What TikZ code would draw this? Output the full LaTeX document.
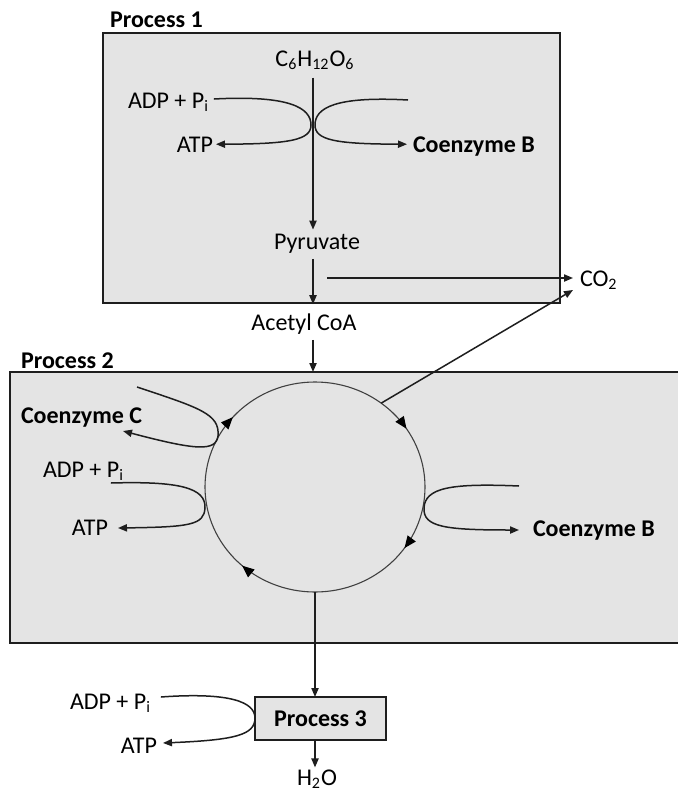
\documentclass[tikz,border=0pt]{standalone}
\usepackage{fontspec}
\setmainfont{Carlito}
\usetikzlibrary{arrows.meta,decorations.markings}
\definecolor{boxgray}{RGB}{228,228,228}
\definecolor{edge}{RGB}{30,30,30}
\begin{document}
\begin{tikzpicture}[x=0.5pt,y=-0.5pt,
  txt/.style={inner sep=0pt,outer sep=0pt,font=\fontsize{12}{14}\selectfont,text=black},
  btxt/.style={txt,font=\fontsize{12}{14}\selectfont\bfseries},
  tip/.style={-{Triangle[length=4.5pt,width=3.6pt]}},
  arr/.style={line width=0.75pt,draw=edge,tip},
  procbox/.style={fill=boxgray,draw=edge,line width=1.1pt},
  cyc/.style={draw=edge!85,line width=0.55pt,
    decoration={markings,
      mark=at position 0.158 with {\arrow[black]{Triangle[length=6pt,width=5pt]}},
      mark=at position 0.347 with {\arrow[black]{Triangle[length=6pt,width=5pt]}},
      mark=at position 0.617 with {\arrow[black]{Triangle[length=6pt,width=5pt]}},
      mark=at position 0.864 with {\arrow[black]{Triangle[length=6pt,width=5pt]}}},
    postaction={decorate}},
]
\fill[white] (0,0) rectangle (678,793);
\useasboundingbox (0,0) rectangle (678,793);

% ---------- Process 1 ----------
\node[procbox,anchor=north west,minimum width=228.5pt,minimum height=135pt,inner sep=0pt] (p1) at (102,32) {};
\node[btxt,anchor=base west] (lab1) at (110,27) {Process 1};
\coordinate (ax) at (313,0);
\node[txt,anchor=base] (c6) at (315,66) {C\textsubscript{6}H\textsubscript{12}O\textsubscript{6}};
\node[txt,anchor=base west] (adp1) at (128,108) {ADP + P\textsubscript{i}};
\node[txt,anchor=base east] (atp1) at (213,152) {ATP};
\node[btxt,anchor=base west] (cob1) at (413,152) {Coenzyme B};
\node[txt,anchor=base] (pyr) at (317,249) {Pyruvate};
\coordinate (r1s) at (408,100);

\draw[arr] ([yshift=-4pt]c6.south -| ax) -- ([yshift=2pt]pyr.north -| ax);
\draw[arr] ([shift={(2.5pt,4.5pt)}]adp1.base east) .. controls (290,95) and (311,108) .. (311,125)
  .. controls (311,140) and (290,144) .. ([shift={(1.5pt,3.9pt)}]atp1.base east);
\draw[arr] (r1s) .. controls (335,96) and (315,108) .. (315,125)
  .. controls (315,140) and (335,144) .. ([shift={(-3pt,3.9pt)}]cob1.base west);
\draw[arr] ([yshift=-3pt]pyr.south -| ax) -- (p1.south -| ax);

% ---------- between ----------
\node[txt,anchor=base] (acoa) at (304,330) {Acetyl CoA};
\node[txt,anchor=base west] (co2) at (580,286) {CO\textsubscript{2}};
\coordinate (co2s) at (327,278);
\draw[arr] (co2s) -- ([shift={(-3.5pt,4pt)}]co2.base west);

% ---------- Process 2 ----------
\fill[boxgray] (10,372) rectangle (678,643);
\coordinate (p2t) at (10,372);
\draw[edge,line width=1.1pt] (680,372) -- (p2t) -- (10,643) -- (680,643);
\node[btxt,anchor=base west] (lab2) at (21,368) {Process 2};
\draw[arr] ([yshift=-3pt]acoa.south -| ax) -- (p2t -| ax);

\coordinate (cc) at (315,487);
\draw[cyc] (315,382) arc[start angle=-90,end angle=270,x radius=110,y radius=105];
\path (cc) ++(-53:110 and 105) coordinate (tcaE);
\path (cc) ++(90:110 and 105) coordinate (cbot);
\draw[arr] (tcaE) -- ([shift={(-3.5pt,-2pt)}]co2.base west);

\node[btxt,anchor=base west] (coc) at (21,423) {Coenzyme C};
\coordinate (ccs) at (137,387);
\draw[arr] (ccs) .. controls (200,408) and (220,414) .. (218,436)
  .. controls (216,452) and (195,450) .. ([shift={(51pt,-4pt)}]coc.base west);

\node[txt,anchor=base west] (adp2) at (43,477) {ADP + P\textsubscript{i}};
\node[txt,anchor=base east] (atp2) at (108,535) {ATP};
\draw[arr] ([shift={(-6.5pt,-3pt)}]adp2.base east) .. controls (180,481) and (206,488) .. (205,508)
  .. controls (204,525) and (190,527) .. ([shift={(5pt,3.5pt)}]atp2.base east);

\node[btxt,anchor=base west] (cob2) at (533,536) {Coenzyme B};
\coordinate (b2s) at (519,486);
\draw[arr] (b2s) .. controls (450,483) and (425,488) .. (424,508)
  .. controls (423,527) and (445,530) .. ([shift={(-7pt,3pt)}]cob2.base west);

% ---------- Process 3 ----------
\node[procbox,btxt,draw=edge,minimum width=65.5pt,minimum height=21.5pt,inner sep=0pt] (p3) at (320.5,718.5) {Process 3};
\node[txt,anchor=base] (h2o) at (317,785) {H\textsubscript{2}O};
\draw[arr] (cbot) -- (cbot |- p3.north);
\draw[arr] (p3.south -| cbot) -- ([yshift=1pt]h2o.north -| cbot);

\node[txt,anchor=base west] (adp3) at (70,709) {ADP + P\textsubscript{i}};
\node[txt,anchor=base east] (atp3) at (157,753) {ATP};
\draw[arr] ([shift={(5pt,6pt)}]adp3.base east) .. controls (230,692) and (255,702) .. (255,718)
  .. controls (255,735) and (235,740) .. ([shift={(3pt,5pt)}]atp3.base east);
\end{tikzpicture}
\end{document}
